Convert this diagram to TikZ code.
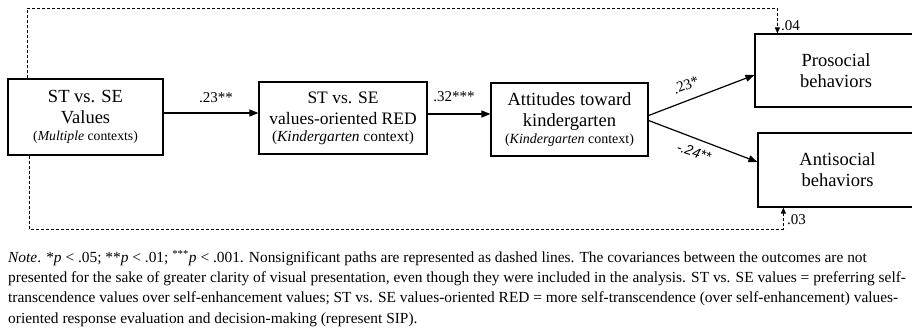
\documentclass[tikz,border=0pt]{standalone}
\usepackage{fontspec}
\setmainfont{Liberation Serif}
\newfontfamily\labsans{Liberation Sans}
\usetikzlibrary{arrows.meta,calc}
\begin{document}
\begin{tikzpicture}[x=1pt,y=-1pt,
  box/.style={draw,line width=1.2pt,rectangle,inner sep=0pt,align=center},
  arr/.style={line width=1.2pt,-{Triangle[length=9pt,width=7pt]}},
  darr/.style={line width=0.9pt,dash pattern=on 3pt off 2pt,-{Triangle[length=6pt,width=5pt]}},
  lab/.style={font=\fontsize{15}{17}\selectfont,inner sep=0pt},
  big/.style={font=\fontsize{18.5}{21}\selectfont}]
\useasboundingbox[fill=white] (0,0) rectangle (912,331);
\newcommand{\sub}[2]{{\fontsize{#1}{#1}\selectfont #2}}
\node[box,big,minimum width=155pt,minimum height=76pt] (b1) at (85.5,117)
  {ST vs. SE\\Values\\[-4pt]\sub{13.7}{(\textit{Multiple} contexts)}};
\node[box,font=\fontsize{17.5}{21}\selectfont,minimum width=168pt,minimum height=72pt] (b2) at (343,118)
  {ST vs. SE\\values-oriented RED\\[-4pt]\sub{15.4}{(\textit{Kindergarten} context)}};
\node[box,big,minimum width=157pt,minimum height=73pt] (b3) at (569.5,119.5)
  {Attitudes toward\\kindergarten\\[-4pt]\sub{14}{(\textit{Kindergarten} context)}};
\node[box,big,minimum width=162pt,minimum height=73pt] (b4) at (836,70.5)
  {Prosocial\\behaviors};
\node[box,big,minimum width=159pt,minimum height=74pt] (b5) at (837.5,170)
  {Antisocial\\behaviors};
% solid paths
\draw[arr] ([yshift=4pt]b1.east) -- ([yshift=5pt]b2.west);
\node[lab,anchor=base] (l1) at (216,103) {.23**};
\draw[arr] ([yshift=4pt]b2.east) -- ([yshift=5.5pt]b3.west);
\node[lab,anchor=base] (l2) at (454,102) {.32***};
\draw[arr] ([yshift=4pt]b3.east) -- ([yshift=-4.5pt]b4.west);
\draw[arr] ([yshift=-1pt]b3.east) -- ([yshift=8pt]b5.west);
\node[lab,rotate=20] (l3) at (686,85) {.23*};
\node[lab,rotate=-18,font=\labsans\itshape\fontsize{14}{16}\selectfont] (l4) at (694,152) {-.24**};
% dashed paths
\coordinate (t1) at ([xshift=20pt]b1.north west);
\coordinate (ty) at (0,8);
\coordinate (t2) at ([xshift=23pt]b4.north west);
\draw[darr] (t1) -- (t1 |- ty) -- (t2 |- ty) -- (t2);
\coordinate (s1) at ([xshift=22pt]b1.south west);
\coordinate (sy) at (0,229);
\coordinate (s2) at ([xshift=26pt]b5.south west);
\draw[darr] (s1) -- (s1 |- sy) -- (s2 |- sy) -- (s2);
\node[lab,anchor=base west] (l5) at (781,31) {.04};
\node[lab,anchor=base west] (l6) at (787,224) {.03};
% note
\node[anchor=base west,inner sep=0pt,align=left,font=\fontsize{15.4}{20.2}\selectfont] (note) at (8,323)
{\textit{Note}. *\textit{p} < .05; **\textit{p} < .01; \textsuperscript{***}\textit{p} < .001. Nonsignificant paths are represented as dashed lines. The covariances between the outcomes are not\\
presented for the sake of greater clarity of visual presentation, even though they were included in the analysis. ST vs. SE values = preferring self-\\
transcendence values over self-enhancement values; ST vs. SE values-oriented RED = more self-transcendence (over self-enhancement) values-\\
oriented response evaluation and decision-making (represent SIP).};
\end{tikzpicture}
\end{document}
